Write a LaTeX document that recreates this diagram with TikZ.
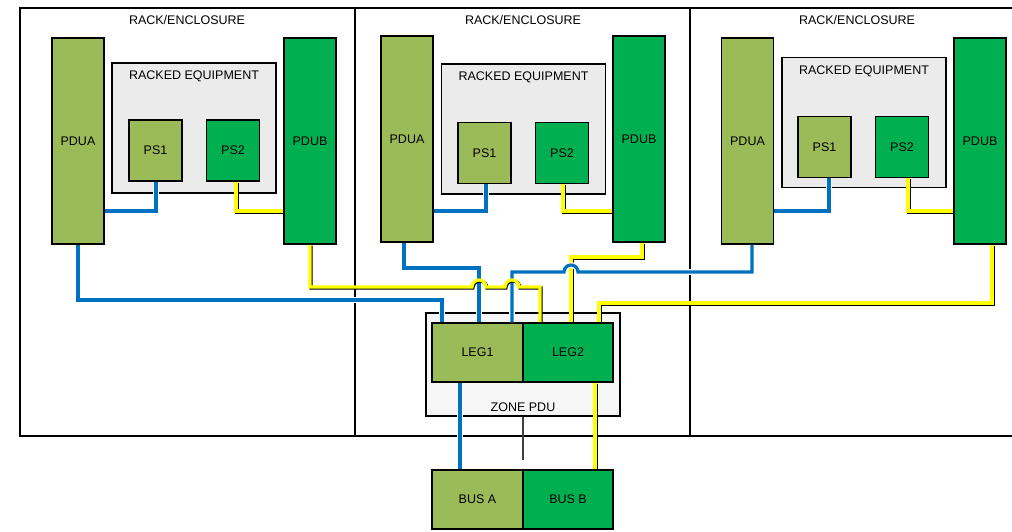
\documentclass[tikz,border=0pt]{standalone}
\usepackage{fontspec}
\setmainfont{Liberation Sans}
\usepackage{tikz}
\usetikzlibrary{positioning}

\definecolor{pdugreen}{HTML}{9BBB59}
\definecolor{pdudark}{HTML}{00B050}
\definecolor{wireblue}{HTML}{0070C0}
\definecolor{wireyellow}{HTML}{FFFF00}
\definecolor{equipgray}{HTML}{EBEBEB}
\definecolor{zonegray}{HTML}{F6F6F6}

\begin{document}
\begin{tikzpicture}[x=1pt, y=-1pt,
    font=\fontsize{12.5}{14}\selectfont,
    rackbox/.style={draw, line width=1.4pt, minimum width=335, minimum height=428, inner sep=0},
    boxa/.style={draw, line width=1.6pt, fill=pdugreen, inner sep=0},
    boxb/.style={draw, line width=1.6pt, fill=pdudark, inner sep=0},
    pdubar/.style={minimum width=52, minimum height=206},
    psbox/.style={minimum width=53, minimum height=61},
    equipbox/.style={draw, line width=1.6pt, fill=equipgray, minimum width=164, minimum height=130, inner sep=0},
    legbox/.style={minimum width=90.5, minimum height=59},
    bluewire/.style={draw=wireblue, line width=3.2pt,
        preaction={draw=white, line width=5.6pt}},
    yellowwire/.style={draw=wireyellow, line width=3.2pt,
        preaction={draw=black, line width=3.2pt, transform canvas={shift={(0.9pt,-0.9pt)}}}}]
    \useasboundingbox (0,0) rectangle (1012,531);

    % 机架
    \node[rackbox] (rack1) at (187.5,222) {};
    \node[rackbox] (rack2) at (522.5,222) {};
    \node[rackbox] (rack3) at (857.5,222) {};
    \node (title1) at (187,20) {RACK/ENCLOSURE};
    \node (title2) at (523,20) {RACK/ENCLOSURE};
    \node (title3) at (857,20) {RACK/ENCLOSURE};

    % 机架 1
    \node[boxa, pdubar] (pdua1) at (78,141) {PDUA};
    \node[boxb, pdubar] (pdub1) at (310,141) {PDUB};
    \node[equipbox] (equip1) at (194,128) {};
    \node (equiptitle1) at (194,76) {RACKED EQUIPMENT};
    \node[boxa, psbox] (ps1a) at (155.5,150.5) {PS1};
    \node[boxb, psbox] (ps2a) at (233,150.5) {PS2};

    % 机架 2
    \node[boxa, pdubar] (pdua2) at (407,139) {PDUA};
    \node[boxb, pdubar] (pdub2) at (639,139) {PDUB};
    \node[equipbox] (equip2) at (523.5,129) {};
    \node (equiptitle2) at (523.5,77) {RACKED EQUIPMENT};
    \node[boxa, psbox] (ps1b) at (484.5,153) {PS1};
    \node[boxb, psbox] (ps2b) at (562,153) {PS2};

    % 机架 3
    \node[boxa, pdubar] (pdua3) at (747.5,141) {PDUA};
    \node[boxb, pdubar] (pdub3) at (980,141) {PDUB};
    \node[equipbox] (equip3) at (864,122.5) {};
    \node (equiptitle3) at (864,71) {RACKED EQUIPMENT};
    \node[boxa, psbox] (ps1c) at (824.5,147) {PS1};
    \node[boxb, psbox] (ps2c) at (902,147) {PS2};

    % 区域 PDU 与母线
    \node[draw, line width=1.6pt, fill=zonegray, minimum width=194, minimum height=103] (zone) at (523,364.5) {};
    \node (zonetitle) at (523,407) {ZONE PDU};
    \node[boxa, legbox] (leg1) at (477.5,352.5) {LEG1};
    \node[boxb, legbox] (leg2) at (568,352.5) {LEG2};
    \node[boxa, legbox] (busa) at (477.5,499.5) {BUS A};
    \node[boxb, legbox] (busb) at (568,499.5) {BUS B};
    \coordinate (zonefoot) at (523,460);
    \draw[line width=1.2pt, black!75] (zone.south) -- (zonefoot);

    % 机架内部连线
    \draw[bluewire] (156,0 |- ps1a.south) |- (pdua1.east |- 0,211);
    \draw[yellowwire] (236,0 |- ps2a.south) |- (pdub1.west |- 0,211);
    \draw[bluewire] (486,0 |- ps1b.south) |- (pdua2.east |- 0,211);
    \draw[yellowwire] (563,0 |- ps2b.south) |- (pdub2.west |- 0,211);
    \draw[bluewire] (829,0 |- ps1c.south) |- (pdua3.east |- 0,211);
    \draw[yellowwire] (908,0 |- ps2c.south) |- (pdub3.west |- 0,211);

    % 到区域 PDU 的连线
    \draw[bluewire] (pdua1.south) -- (78,300) -- (442,300) -- (442,0 |- leg1.north);
    \draw[bluewire] (404,0 |- pdua2.south) -- (404,268) -- (479,268) -- (479,0 |- leg1.north);
    \draw[yellowwire] (642,0 |- pdub2.south) -- (642,257) -- (571,257) -- (571,0 |- leg2.north);
    \draw[bluewire] (752,0 |- pdua3.south) -- (752,272) -- (578,272)
        arc[start angle=360, end angle=180, radius=7] -- (512,272) -- (512,0 |- leg1.north);
    \draw[yellowwire] (pdub1.south) -- (310,287) -- (472,287)
        arc[start angle=180, end angle=360, radius=7] -- (505,287)
        arc[start angle=180, end angle=360, radius=7] -- (540,287) -- (540,0 |- leg2.north);
    \draw[yellowwire] (992,0 |- pdub3.south) -- (992,303) -- (599,303) -- (599,0 |- leg2.north);

    % 到母线的连线
    \draw[bluewire] (460,0 |- leg1.south) -- (460,0 |- busa.north);
    \draw[yellowwire] (595,0 |- leg2.south) -- (595,0 |- busb.north);
\end{tikzpicture}
\end{document}
